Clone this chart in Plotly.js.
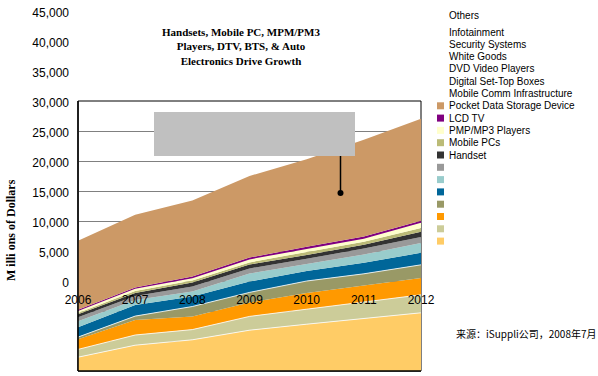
<!DOCTYPE html>
<html>
<head>
<meta charset="utf-8">
<script src="https://cdn.plot.ly/plotly-3.0.1.min.js"></script>
<style>html,body{margin:0;padding:0;background:#fff;}#chart{width:598px;height:376px;}</style>
</head>
<body>
<div id="chart"></div>
<script>
// ---- data (millions of dollars) ----
const years = [2006, 2007, 2008, 2009, 2010, 2011, 2012];
const handset        = [2300, 4300, 5200, 6800, 7800, 8700, 9700];
const mobilePCs      = [1300, 1700, 1700, 2300, 2500, 2800, 3000];
const pmpMp3         = [1700, 2500, 2200, 2300, 2700, 2700, 2800];
const lcdTv          = [350, 650, 1650, 1700, 2000, 2000, 2200];
const pocketStorage  = [1650, 1850, 1650, 1800, 1650, 1850, 2000];
const mobileComm     = [1000, 850, 850, 1350, 1200, 1350, 1650];
const setTopBoxes    = [650, 650, 850, 850, 850, 1000, 1000];
const dvdPlayers     = [500, 500, 650, 650, 650, 650, 850];
const whiteGoods     = [200, 350, 350, 350, 500, 500, 650];
const security       = [350, 350, 350, 500, 500, 500, 850];
const infotainment   = [200, 200, 300, 300, 350, 350, 350];
const others         = [11500, 12150, 12650, 13600, 14600, 16150, 17000];

// stacking order, bottom to top
const seriesNames = ['Handset', 'Mobile PCs', 'PMP/MP3 Players', 'LCD TV', 'Pocket Data Storage Device',
  'Mobile Comm Infrastructure', 'Digital Set-Top Boxes', 'DVD Video Players', 'White Goods',
  'Security Systems', 'Infotainment', 'Others'];
const seriesValues = [handset, mobilePCs, pmpMp3, lcdTv, pocketStorage, mobileComm, setTopBoxes,
  dvdPlayers, whiteGoods, security, infotainment, others];
const seriesColors = ['#FFCC66', '#CCCC99', '#FF9900', '#999966', '#006699', '#99CCCC', '#999999',
  '#333333', '#BBBB77', '#FFFFCC', '#800080', '#CC9966'];
// thin white edge on top of some bands
const edgeWidths = [0.8, 0.8, 0, 0.8, 0, 0, 0, 0, 0, 0, 0, 0];

const yTickVals = [0, 5000, 10000, 15000, 20000, 25000, 30000, 35000, 40000, 45000];
const chartTitle = 'Handsets, Mobile PC, MPM/PM3<br>Players, DTV, BTS, & Auto<br>Electronics Drive Growth';
const yTitle = 'M illi ons of Dollars';
const sourceText = '来源：iSuppli公司，2008年7月';

// ---- geometry helpers (pixel -> paper) ----
const L = 78, R = 421, T = 11, B = 371;
const px = v => (v - L) / (R - L);
const py = v => (B - v) / (B - T);

const traces = seriesValues.map((vals, i) => ({
  type: 'scatter', x: years, y: vals, name: seriesNames[i],
  stackgroup: 'one', mode: 'lines',
  line: {width: edgeWidths[i], color: edgeWidths[i] ? '#FFFFFF' : seriesColors[i]},
  fillcolor: seriesColors[i], xaxis: 'x', yaxis: 'y', hoverinfo: 'skip'
}));
// carrier trace so the labelled value axis is drawn (no visible marks)
traces.push({type: 'scatter', x: years, y: years.map(() => null), mode: 'lines',
  xaxis: 'x', yaxis: 'y2', hoverinfo: 'skip', showlegend: false});

const annotations = [];
const shapes = [];

// title
annotations.push({xref: 'paper', yref: 'paper', x: px(241), y: py(47), text: chartTitle,
  showarrow: false, xanchor: 'center', yanchor: 'middle', align: 'center',
  font: {family: 'Liberation Serif', size: 11, weight: 'bold', color: '#000'}});
// y title
annotations.push({xref: 'paper', yref: 'paper', x: px(11), y: py(230), text: yTitle, textangle: -90,
  showarrow: false, xanchor: 'center', yanchor: 'middle',
  font: {family: 'Liberation Serif', size: 12, weight: 'bold', color: '#000'}});
// source
annotations.push({xref: 'paper', yref: 'paper', x: px(454), y: py(333), text: sourceText,
  showarrow: false, xanchor: 'left', yanchor: 'middle',
  font: {family: 'Noto Sans CJK SC', size: 10, color: '#000'}});

// manual legend: labels top-down, swatches shifted down by 7 rows
const rowY = k => (k === 0 ? 15.7 : 32 + 12.3 * (k - 1));
const legendNames = seriesNames.slice().reverse();
const legendColors = seriesColors.slice().reverse();
legendNames.forEach((n, i) => {
  annotations.push({xref: 'paper', yref: 'paper', x: px(447), y: py(rowY(i)), text: n,
    showarrow: false, xanchor: 'left', yanchor: 'middle',
    font: {family: 'Liberation Sans', size: 10, color: '#000'}});
});
legendColors.forEach((c, i) => {
  const yc = rowY(i + 7);
  shapes.push({type: 'rect', xref: 'paper', yref: 'paper', x0: px(437), x1: px(444),
    y0: py(yc + 3.5), y1: py(yc - 3.5), fillcolor: c, line: {width: 0}, layer: 'above'});
});

// box outline: top/right beneath the areas, left/bottom above them
shapes.push({type: 'rect', xref: 'x domain', yref: 'y domain', x0: 0, x1: 1, y0: 0, y1: 1,
  line: {color: '#000', width: 1}, layer: 'below'});
shapes.push({type: 'line', xref: 'x domain', yref: 'y domain', x0: 0, x1: 0, y0: 0, y1: 1,
  line: {color: '#000', width: 1.5}, layer: 'above'});
shapes.push({type: 'line', xref: 'x domain', yref: 'y domain', x0: 0, x1: 1, y0: 0, y1: 0,
  line: {color: '#000', width: 1.5}, layer: 'above'});

// callout: grey box, leader line and dot
shapes.push({type: 'rect', xref: 'paper', yref: 'paper', x0: px(154), x1: px(355), y0: py(156), y1: py(112),
  fillcolor: '#C0C0C0', line: {width: 0}, layer: 'above'});
shapes.push({type: 'line', xref: 'paper', yref: 'paper', x0: px(340.5), x1: px(340.5), y0: py(156), y1: py(193),
  line: {color: '#000', width: 1.5}, layer: 'above'});
shapes.push({type: 'circle', xref: 'paper', yref: 'paper', x0: px(337.5), x1: px(343.5), y0: py(196), y1: py(190),
  fillcolor: '#000', line: {width: 0}, layer: 'above'});

const layout = {
  width: 598, height: 376,
  margin: {l: L, r: 598 - R, t: T, b: 376 - B, pad: 0},
  paper_bgcolor: '#fff', plot_bgcolor: 'rgba(0,0,0,0)',
  showlegend: false,
  font: {family: 'Liberation Sans', size: 12, color: '#000'},
  xaxis: {domain: [0, 1], range: [2006, 2012], anchor: 'free', position: py(285), tickvals: years,
    showgrid: false, zeroline: false, showline: false, ticks: '', ticklabelstandoff: 6,
    layer: 'above traces',
    tickfont: {family: 'Liberation Sans', size: 12, color: '#000'}, fixedrange: true},
  yaxis: {domain: [0, py(101)], range: [0, 45000], anchor: 'x', dtick: 5000, showgrid: true,
    gridcolor: '#808080', gridwidth: 1, zeroline: false, showticklabels: false, ticks: '',
    showline: false, fixedrange: true},
  yaxis2: {domain: [0, 1], range: [-15000, 45000], anchor: 'x', tickvals: yTickVals, tickformat: ',.0f',
    showgrid: false, zeroline: false, showline: false, ticks: '', ticklabelstandoff: 8,
    ticklabelshift: 2,
    tickfont: {family: 'Liberation Sans', size: 12, color: '#000'}, fixedrange: true},
  shapes: shapes,
  annotations: annotations
};

Plotly.newPlot('chart', traces, layout, {displayModeBar: false, staticPlot: true});
</script>
</body>
</html>
